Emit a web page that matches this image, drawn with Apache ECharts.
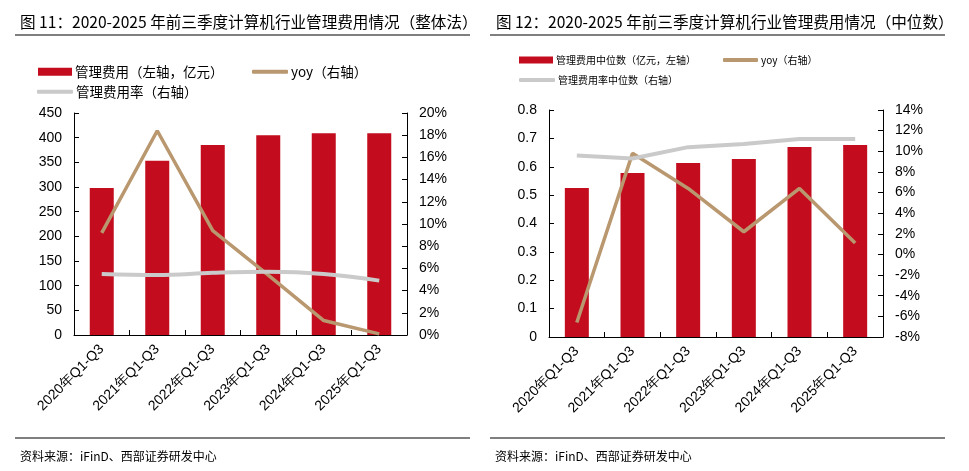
<!DOCTYPE html>
<html>
<head>
<meta charset="utf-8">
<script src="https://cdn.jsdelivr.net/npm/echarts@6/dist/echarts.min.js"></script>
<style>
html,body{margin:0;padding:0;background:#fff;}
#c{width:969px;height:471px;}
</style>
</head>
<body>
<div id="c"></div>
<script>
// ---- data ----
var categories = ['2020年Q1-Q3', '2021年Q1-Q3', '2022年Q1-Q3', '2023年Q1-Q3', '2024年Q1-Q3', '2025年Q1-Q3'];
// Fig 11 (整体法)
var totalExpense = [298, 353, 385, 405, 409, 409];      // 亿元
var totalYoy = [9.2, 18.4, 9.4, 5.4, 1.3, 0.1];          // %
var totalRate = [5.5, 5.4, 5.6, 5.7, 5.5, 4.9];          // %
// Fig 12 (中位数)
var medianExpense = [0.525, 0.578, 0.613, 0.627, 0.670, 0.677]; // 亿元
var medianYoy = [-6.6, 9.8, 6.4, 2.2, 6.4, 1.1];                 // %
var medianRate = [9.6, 9.3, 10.4, 10.7, 11.2, 11.2];             // %
// axis ticks
var leftAxis1 = {min: 0, max: 450, interval: 50};
var rightAxis1 = {min: 0, max: 20, interval: 2};
var leftAxis2 = {min: 0, max: 0.8, interval: 0.1};
var rightAxis2 = {min: -8, max: 14, interval: 2};

var names1 = ['管理费用（左轴，亿元）', 'yoy（右轴）', '管理费用率（右轴）'];
var names2 = ['管理费用中位数（亿元，左轴）', 'yoy（右轴）', '管理费用率中位数（右轴）'];
var title1 = '图 11：2020-2025 年前三季度计算机行业管理费用情况（整体法）';
var title2 = '图 12：2020-2025 年前三季度计算机行业管理费用情况（中位数）';
var source = '资料来源：iFinD、西部证券研发中心';

var RED = '#C30D1E', TAN = '#B9976F', GRAY = '#CACACA';
var NUM = 'Liberation Sans, Arial, sans-serif';
var CJK = '"Noto Sans CJK SC", sans-serif';

function yAxis(cfg, gridIndex, pos, fmt) {
  return {
    type: 'value', gridIndex: gridIndex, position: pos,
    min: cfg.min, max: cfg.max, interval: cfg.interval,
    axisLine: {show: true, lineStyle: {color: '#000', width: 1}},
    axisTick: {show: true, inside: true, length: 5, lineStyle: {color: '#000'}},
    splitLine: {show: false},
    axisLabel: {color: '#000', fontSize: 14, fontFamily: NUM, margin: 12, formatter: fmt}
  };
}
function xAxis(gridIndex) {
  return {
    type: 'category', gridIndex: gridIndex, data: categories,
    axisLine: {show: true, lineStyle: {color: '#000', width: 1}},
    axisTick: {show: true, inside: true, length: 5, lineStyle: {color: '#000'}},
    axisLabel: {color: '#000', fontSize: 14, fontFamily: NUM, rotate: 45, margin: 12, interval: 0}
  };
}
function legend(name, left, top, w, h, icon, fs) {
  return {
    data: [name], left: left, top: top, padding: 0, itemGap: 0,
    itemWidth: w, itemHeight: h, icon: icon, itemStyle: {borderWidth: 0},
    textStyle: {color: '#000', fontSize: fs, fontFamily: CJK, padding: [0, 0, 0, -2]},
    selectedMode: false
  };
}

var chart = echarts.init(document.getElementById('c'), null, {renderer: 'canvas'});
chart.setOption({
  backgroundColor: '#fff',
  animation: false,
  title: [
    {text: title1, left: 15, top: 9, textStyle: {fontSize: 15.6, fontWeight: 'normal', color: '#000', fontFamily: CJK}},
    {text: title2, left: 491, top: 9, textStyle: {fontSize: 15.6, fontWeight: 'normal', color: '#000', fontFamily: CJK}},
    {text: source, left: 15, top: 445, textStyle: {fontSize: 12, fontWeight: 'normal', color: '#000', fontFamily: CJK}},
    {text: source, left: 490, top: 445, textStyle: {fontSize: 12, fontWeight: 'normal', color: '#000', fontFamily: CJK}}
  ],
  graphic: [
    {type: 'line', shape: {x1: 15, y1: 35, x2: 470, y2: 35}, style: {stroke: '#000', lineWidth: 1}},
    {type: 'line', shape: {x1: 490, y1: 35, x2: 945, y2: 35}, style: {stroke: '#000', lineWidth: 1}},
    {type: 'line', shape: {x1: 15, y1: 438, x2: 470, y2: 438}, style: {stroke: '#000', lineWidth: 1}},
    {type: 'line', shape: {x1: 490, y1: 438, x2: 945, y2: 438}, style: {stroke: '#000', lineWidth: 1}}
  ],
  legend: [
    legend(names1[0], 38, 65, 34, 8, 'rect', 13.5),
    legend(names1[1], 252, 65, 36, 4, 'roundRect', 13.5),
    legend(names1[2], 37, 85, 36, 4, 'roundRect', 13.5),
    legend(names2[0], 519, 55, 34, 7, 'rect', 10),
    legend(names2[1], 723, 55, 35, 4, 'roundRect', 10),
    legend(names2[2], 519, 75, 36, 4, 'roundRect', 10)
  ],
  grid: [
    {left: 74, right: 562, top: 113, bottom: 136},
    {left: 549, right: 86, top: 110, bottom: 134}
  ],
  xAxis: [xAxis(0), xAxis(1)],
  yAxis: [
    yAxis(leftAxis1, 0, 'left', '{value}'),
    yAxis(rightAxis1, 0, 'right', '{value}%'),
    yAxis(leftAxis2, 1, 'left', '{value}'),
    yAxis(rightAxis2, 1, 'right', '{value}%')
  ],
  series: [
    {name: names1[0], type: 'bar', xAxisIndex: 0, yAxisIndex: 0, data: totalExpense, barWidth: 24, itemStyle: {color: RED}},
    {name: names1[1], type: 'line', xAxisIndex: 0, yAxisIndex: 1, data: totalYoy, symbol: 'none', lineStyle: {color: TAN, width: 3.5}, itemStyle: {color: TAN}},
    {name: names1[2], type: 'line', xAxisIndex: 0, yAxisIndex: 1, data: totalRate, symbol: 'none', smooth: 0.4, lineStyle: {color: GRAY, width: 4}, itemStyle: {color: GRAY}},
    {name: names2[0], type: 'bar', xAxisIndex: 1, yAxisIndex: 2, data: medianExpense, barWidth: 24, itemStyle: {color: RED}},
    {name: names2[1], type: 'line', xAxisIndex: 1, yAxisIndex: 3, data: medianYoy, symbol: 'none', lineStyle: {color: TAN, width: 3.5}, itemStyle: {color: TAN}},
    {name: names2[2], type: 'line', xAxisIndex: 1, yAxisIndex: 3, data: medianRate, symbol: 'none', lineStyle: {color: GRAY, width: 4}, itemStyle: {color: GRAY}}
  ]
});
</script>
</body>
</html>
